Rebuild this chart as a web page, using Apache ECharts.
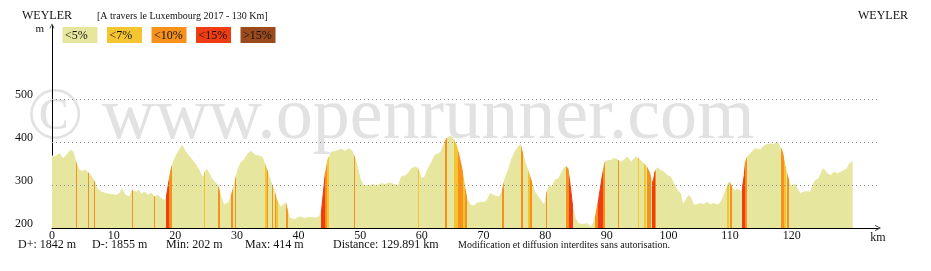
<!DOCTYPE html>
<html>
<head>
<meta charset="utf-8">
<script src="https://cdn.jsdelivr.net/npm/echarts@6/dist/echarts.min.js"></script>
<style>
html,body{margin:0;padding:0;background:#fff;}
#chart{width:931px;height:271px;}
</style>
</head>
<body>
<div id="chart"></div>
<script>
// ---- data (km along route, elevation in m) ----
const distKm = [0,0.43,0.86,1.24,1.78,2.32,3.02,3.4,3.94,4.48,5.02,5.4,5.94,6.5,6.9,7.35,8.0,8.8,9.6,10.4,10.97,11.35,11.9,12.6,13.0,13.3,13.67,14.05,14.48,15.02,15.56,16.1,16.64,17.18,17.72,18.26,18.53,18.8,19.34,19.88,20.5,21.1,21.56,22.1,22.6,23.2,23.7,24.3,24.5,24.8,25.1,25.4,25.9,26.4,26.9,27.2,27.6,27.9,28.3,28.7,29.0,29.4,29.8,30.2,30.7,31.3,31.8,32.3,32.6,33.0,33.3,33.7,34.1,34.5,35.0,35.5,36.1,36.4,37.0,37.5,37.9,38.2,38.6,39.4,40.2,41.0,41.8,42.6,43.4,43.76,44.3,44.8,45.4,45.9,46.5,47.0,47.5,48.1,48.6,49.2,49.6,49.98,50.5,51.3,52.1,52.7,53.4,54.0,54.8,55.5,56.2,56.7,57.4,57.9,58.3,59.0,59.4,59.9,60.5,61.0,61.6,62.1,62.7,63.1,63.5,64.0,64.6,65.1,65.6,66.0,66.5,66.9,67.3,67.9,68.4,68.9,69.5,70.0,70.6,71.1,71.4,71.9,72.5,73.0,73.5,74.1,74.6,75.1,75.6,75.96,76.3,76.8,77.3,77.9,78.3,78.9,79.5,79.9,80.3,80.7,81.1,81.6,82.2,82.7,83.3,83.7,84.1,84.5,84.9,85.4,86.2,86.8,87.5,87.9,88.2,88.4,88.7,89.2,89.7,90.1,90.6,91.1,91.5,91.8,92.2,92.8,93.3,93.6,94.0,94.4,94.8,95.2,95.5,96.0,96.5,96.9,97.2,97.5,97.8,98.2,98.7,99.3,99.8,100.3,100.9,101.4,102.0,102.3,102.8,103.3,103.7,104.1,104.6,105.2,105.7,106.3,106.8,107.3,107.9,108.4,108.9,109.5,109.9,110.3,110.7,111.2,111.9,112.3,112.5,112.8,113.3,113.9,114.4,114.9,115.5,116.0,116.6,117.1,117.7,118.0,118.5,118.9,119.3,119.7,120.1,120.5,120.9,121.4,122.0,122.5,123.1,123.5,123.9,124.4,125.1,125.8,126.3,126.9,127.4,128.0,128.5,129.0,129.4,129.891];
const elevM = [368,365,369,373,361,369,381,377,350,334,332,335,328,318,307,290,284,280,278,276,280,290,276,272,288,289,283,288,278,284,276,281,272,276,268,264,270,295,338,361,377,392,380,369,361,350,338,322,315,330,336,330,315,307,299,284,264,253,257,260,272,291,315,338,353,361,373,378,375,369,365,367,365,350,330,307,284,268,249,253,259,241,222,220,226,222,225,223,226,245,322,361,377,378,381,383,378,384,381,361,338,315,299,298,301,298,303,301,305,301,299,319,322,330,338,342,338,315,319,338,353,369,373,377,392,408,414,408,392,370,338,299,268,253,251,257,260,259,264,280,284,274,272,284,315,338,361,377,388,394,377,350,330,303,284,272,260,253,284,299,295,311,315,330,344,338,295,245,222,210,208,210,202,214,229,245,268,315,353,357,357,361,361,357,353,357,365,365,353,361,365,361,365,350,342,330,315,303,330,340,334,330,322,319,303,288,280,253,264,276,268,253,254,257,254,260,254,257,254,257,272,295,307,295,286,291,284,322,353,365,373,383,384,381,391,394,396,394,400,396,377,346,322,303,295,303,291,280,284,284,284,303,311,315,338,326,322,330,326,330,334,338,350,355];

// slope bands: [startKm, endKm, slopeClassIndex]
const slopeBands = [
  [3.9,4.05,2],[5.85,6.0,2],[6.75,6.9,2],[13.0,13.12,2],[16.55,16.7,2],
  [18.55,19.0,3],[19.0,19.5,2],[24.65,24.75,1],[26.95,27.2,2],[29.05,29.35,2],[29.65,29.9,2],
  [34.5,34.8,1],[34.8,35.1,2],[35.65,35.8,2],[36.15,36.4,2],[36.4,36.6,1],[37.9,38.25,2],
  [43.6,44.3,3],[44.3,44.6,2],[44.6,44.9,1],[48.95,49.2,2],[59.4,59.5,1],[63.8,64.05,2],
  [65.2,65.8,1],[65.8,66.6,2],[66.6,67.0,1],[67.0,67.25,2],[72.95,73.25,2],[74.55,74.7,1],
  [76.1,76.45,2],[77.25,77.55,1],[77.55,77.85,2],[80.1,80.35,2],[83.45,83.95,2],[83.95,84.45,3],
  [88.1,88.6,2],[88.6,89.35,3],[89.35,89.75,2],[91.8,91.95,2],[93.55,93.65,1],[95.05,95.15,1],
  [96.0,96.3,1],[96.5,97.1,2],[97.35,97.8,3],[97.8,97.95,2],[101.35,101.45,1],
  [109.5,109.75,1],[109.95,110.3,2],[111.95,112.4,3],[112.4,112.8,2],
  [118.2,118.7,2],[118.7,119.1,1],[119.3,119.6,2],[123.25,123.35,1]
];

const slopeLabels = ['<5%','<7%','<10%','<15%','>15%'];
const slopeColors = ['#e6e69e','#f4c531','#f6911c','#ef3c13','#9b4a1d'];
const gridLevels = [300,400,500];

const titleLeft = 'WEYLER';
const subtitle = '[A travers le Luxembourg 2017 - 130 Km]';
const titleRight = 'WEYLER';
const stats = ['D+: 1842 m','D-: 1855 m','Min: 202 m','Max: 414 m','Distance: 129.891 km'];
const notice = 'Modification et diffusion interdites sans autorisation.';
const watermark = '\u00a9 www.openrunner.com';

// ---- build ----
const serif = '"Liberation Serif", "Times New Roman", serif';
const data = distKm.map((d, i) => [d, elevM[i]]);
const chevron = 'path://M0,10L5,0L10,10L8.8,10L5,2.4L1.2,10Z';

const graphics = [];
graphics.push({type:'text', z:0, silent:true, style:{text:watermark, x:27, y:119, font:'74px ' + serif, fill:'#e2e2e2', verticalAlign:'middle', align:'left'}});
graphics.push({type:'text', style:{text:titleLeft, x:22, y:16, font:'12px ' + serif, fill:'#111', verticalAlign:'middle'}});
graphics.push({type:'text', style:{text:subtitle, x:97, y:16.5, font:'10px ' + serif, fill:'#111', verticalAlign:'middle'}});
graphics.push({type:'text', style:{text:titleRight, x:858, y:16, font:'12px ' + serif, fill:'#111', verticalAlign:'middle'}});
slopeLabels.forEach((lab, i) => {
  const x0 = 62.5 + i * 44.5;
  graphics.push({type:'rect', shape:{x:x0, y:27, width:35, height:16}, style:{fill:slopeColors[i]}});
  graphics.push({type:'text', style:{text:lab, x:x0 + 2.5, y:35.5, font:'12px ' + serif, fill:'#111', verticalAlign:'middle'}});
});
const statX = [18, 92, 166, 245, 333];
stats.forEach((s, i) => {
  graphics.push({type:'text', style:{text:s, x:statX[i], y:244.5, font:'12px ' + serif, fill:'#111', verticalAlign:'middle'}});
});
graphics.push({type:'text', style:{text:notice, x:458, y:245.5, font:'10px ' + serif, fill:'#111', verticalAlign:'middle'}});

const chart = echarts.init(document.getElementById('chart'), null, {renderer:'canvas'});
chart.setOption({
  animation: false,
  backgroundColor: '#fff',
  graphic: graphics,
  grid: {left:52, right:53, top:26, bottom:43, containLabel:false},
  xAxis: {
    type:'value', min:0, max:134, interval:10,
    name:'km', nameLocation:'end', nameGap:0,
    nameTextStyle:{fontFamily:serif, fontSize:12, color:'#111', align:'center', verticalAlign:'top', padding:[4,0,0,0]},
    axisLine:{show:true, lineStyle:{color:'#000', width:1}, symbol:['none', chevron], symbolSize:[6,7]},
    axisTick:{show:false},
    splitLine:{show:false},
    axisLabel:{margin:2, fontFamily:serif, fontSize:12, color:'#111', showMaxLabel:false,
      formatter: v => (v % 10 === 0 && v <= 120) ? String(v) : ''}
  },
  yAxis: {
    type:'value', min:200, max:670, interval:100,
    name:'m', nameLocation:'end', nameGap:-3,
    nameTextStyle:{fontFamily:serif, fontSize:11, color:'#111', align:'right', verticalAlign:'middle', padding:[0,8,0,0]},
    axisLine:{show:true, onZero:false, lineStyle:{color:'#000', width:1}, symbol:['none', chevron], symbolSize:[6,5]},
    axisTick:{show:false},
    splitLine:{show:false},
    axisLabel:{margin:19, fontFamily:serif, fontSize:12, color:'#111', verticalAlign:'bottom', lineHeight:8,
      formatter: v => (v <= 500 && v % 100 === 0) ? String(v) : ''}
  },
  visualMap: {
    show:false, type:'piecewise', dimension:0, seriesIndex:0,
    pieces: slopeBands.map(b => ({gte:b[0], lt:b[1], color:slopeColors[b[2]]})),
    outOfRange:{color:slopeColors[0]}
  },
  series: [{
    type:'line', data:data, showSymbol:false, symbol:'none', z:2,
    lineStyle:{width:1},
    areaStyle:{opacity:1},
    markLine:{
      silent:true, symbol:'none', label:{show:false}, z:3,
      lineStyle:{color:'#8a8a8a', width:1, type:[1,3]},
      data: gridLevels.map(v => ({yAxis:v}))
    }
  }]
});
</script>
</body>
</html>
